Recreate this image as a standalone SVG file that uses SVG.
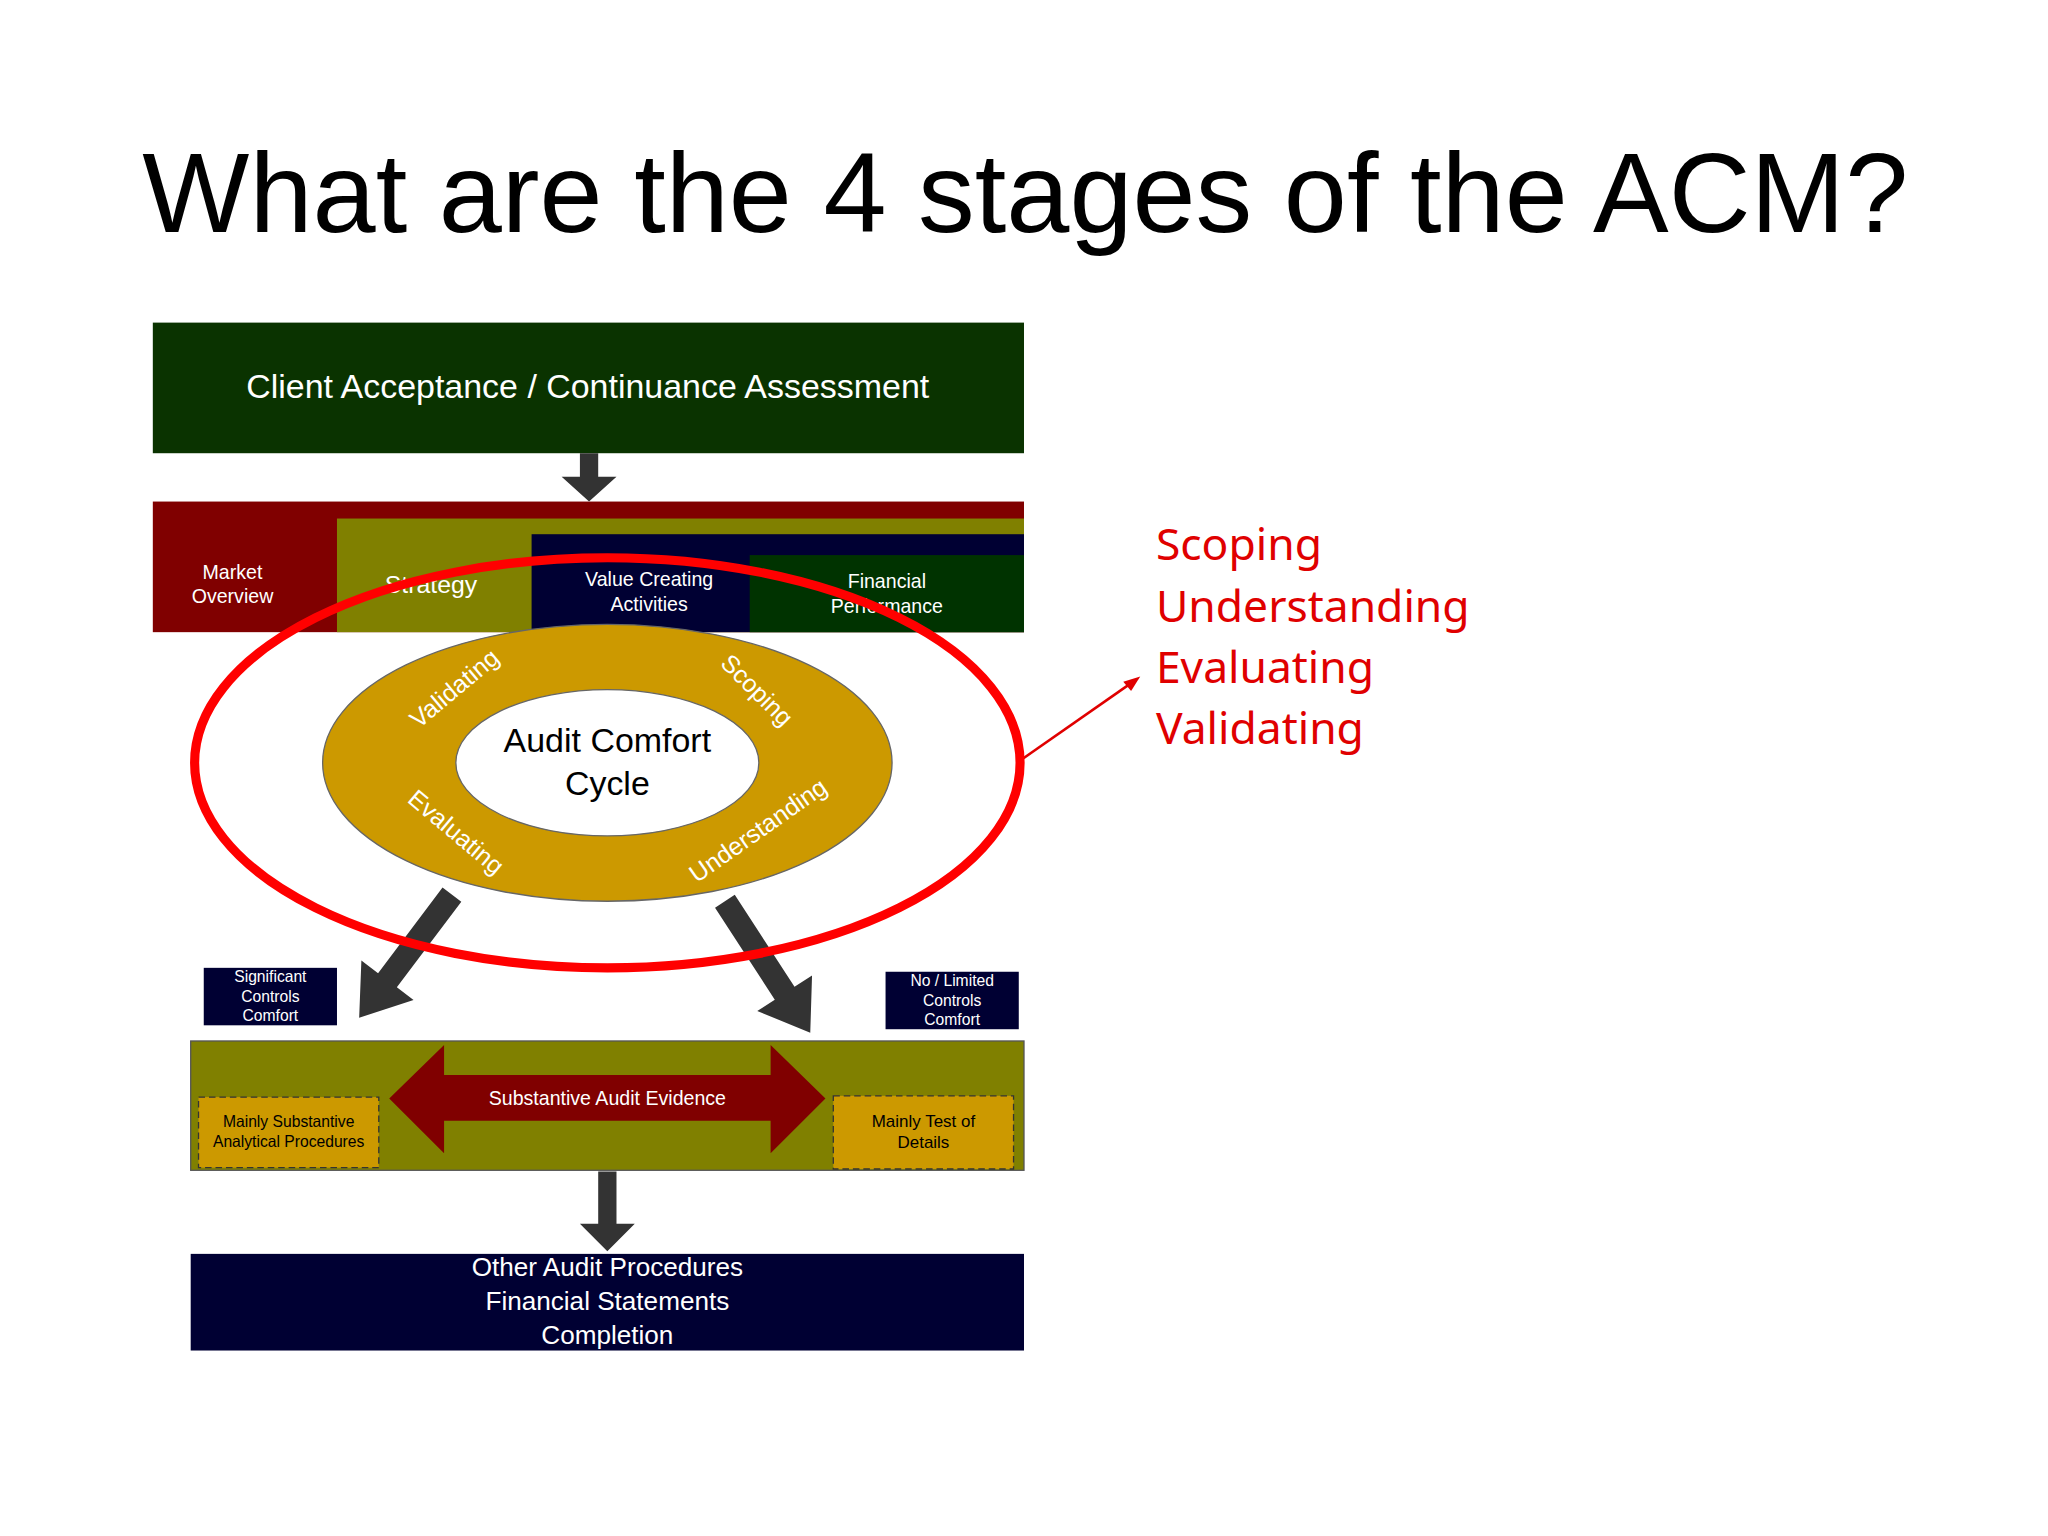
<svg xmlns="http://www.w3.org/2000/svg" width="2048" height="1536" viewBox="0 0 2048 1536">
<style>
text{font-family:"Liberation Sans",Arial,sans-serif;text-anchor:middle}
.w{fill:#fff}
.r{fill:#e00000;font-family:"Noto Sans","Open Sans",sans-serif;font-size:34px;text-anchor:start}
.arr{fill:#333}
</style>
<rect width="2048" height="1536" fill="#fff"/>
<g transform="scale(1.30612)">
<text id="title" x="785" y="178" font-family="Noto Sans, sans-serif" font-size="86" textLength="1352" lengthAdjust="spacingAndGlyphs">What are the 4 stages of the ACM?</text>
<g id="client"><rect x="117" y="247" width="667" height="100" fill="#0a3300"/><text class="w" x="450" y="305" font-size="26">Client Acceptance / Continuance Assessment</text></g>
<g id="band">
<rect x="117" y="384" width="667" height="100" fill="#800000"/>
<rect x="258" y="397" width="526" height="87" fill="#808000"/>
<rect x="407" y="409" width="377" height="75" fill="#000033"/>
<rect x="574" y="425" width="210" height="59" fill="#003300"/>
<text class="w" x="178" y="443" font-size="15">Market</text><text class="w" x="178" y="462" font-size="15">Overview</text>
<text class="w" x="330" y="454" font-size="19">Strategy</text>
<text class="w" x="497" y="449" font-size="15">Value Creating</text><text class="w" x="497" y="468" font-size="15">Activities</text>
<text class="w" x="679" y="450" font-size="15">Financial</text><text class="w" x="679" y="469" font-size="15">Performance</text>
</g>
<g id="cycle">
<ellipse cx="465" cy="584" rx="218" ry="106" fill="#cc9900" stroke="#666"/>
<ellipse cx="465" cy="584" rx="116" ry="56" fill="#fff" stroke="#666"/>
<text x="465" y="576" font-size="26">Audit Comfort</text><text x="465" y="609" font-size="26">Cycle</text>
<text class="w" font-size="19" transform="translate(352,532) rotate(-40)">Validating</text>
<text class="w" font-size="19" transform="translate(575,533) rotate(45)">Scoping</text>
<text class="w" font-size="19" transform="translate(345,642) rotate(40)">Evaluating</text>
<text class="w" font-size="19" transform="translate(584,641) rotate(-35)">Understanding</text>
</g>
<g id="connectors">
<polygon class="arr" points="444,347 458,347 458,365 472,365 451,384 430,365 444,365"/>
<polygon class="arr" points="-9,0 9,0 9,82 25,82 0,118 -25,82 -9,82" transform="translate(346,685) rotate(37)"/>
<polygon class="arr" points="-9,0 9,0 9,84 25,84 0,120 -25,84 -9,84" transform="translate(555,690) rotate(-33)"/>
<polygon class="arr" points="458,897 472,897 472,937 486,937 465,958 444,937 458,937"/>
<line x1="780" y1="583" x2="866" y2="523" stroke="#e00000" stroke-width="2"/>
<polygon points="873,518 860,522 866,529" fill="#e00000"/>
</g>
<ellipse id="highlight" cx="465" cy="584" rx="316" ry="157" fill="none" stroke="#f00" stroke-width="7"/>
<g id="stages"><text class="r" x="885" y="429">Scoping</text><text class="r" x="885" y="476">Understanding</text><text class="r" x="885" y="523">Evaluating</text><text class="r" x="885" y="570">Validating</text></g>
<g id="sig"><rect x="156" y="741" width="102" height="44" fill="#000033"/><text class="w" x="207" y="752" font-size="12">Significant</text><text class="w" x="207" y="767" font-size="12">Controls</text><text class="w" x="207" y="782" font-size="12">Comfort</text></g>
<g id="nolim"><rect x="678" y="744" width="102" height="44" fill="#000033"/><text class="w" x="729" y="755" font-size="12">No / Limited</text><text class="w" x="729" y="770" font-size="12">Controls</text><text class="w" x="729" y="785" font-size="12">Comfort</text></g>
<g id="subst">
<rect x="146" y="797" width="638" height="99" fill="#808000" stroke="#555"/>
<polygon points="298,841 340,800 340,823 590,823 590,800 632,841 590,883 590,858 340,858 340,883" fill="#800000"/>
<text class="w" x="465" y="846" font-size="15">Substantive Audit Evidence</text>
<rect x="152" y="840" width="138" height="54" fill="#cc9900" stroke="#333" stroke-dasharray="5,3"/>
<text x="221" y="863" font-size="12">Mainly Substantive</text><text x="221" y="878" font-size="12">Analytical Procedures</text>
<rect x="638" y="839" width="138" height="56" fill="#cc9900" stroke="#333" stroke-dasharray="5,3"/>
<text x="707" y="863" font-size="13">Mainly Test of</text><text x="707" y="879" font-size="13">Details</text>
</g>
<g id="other"><rect x="146" y="960" width="638" height="74" fill="#000033"/>
<text class="w" x="465" y="977" font-size="20">Other Audit Procedures</text><text class="w" x="465" y="1003" font-size="20">Financial Statements</text><text class="w" x="465" y="1029" font-size="20">Completion</text></g>
</g>
</svg>
